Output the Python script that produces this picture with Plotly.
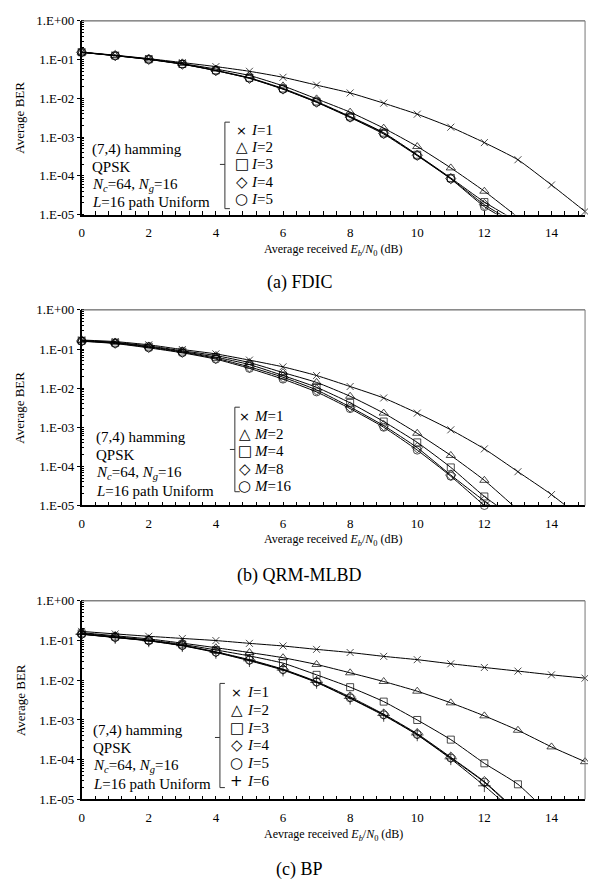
import plotly.graph_objects as go

# page body has an 8px margin, so the figure itself is drawn 8px smaller and positions are offset
PAGE_W, PAGE_H = 596, 888
OFF = 8
W, H = PAGE_W - OFF, PAGE_H - OFF

# ---------------- data ----------------
snr_db = list(range(16))

# (a) FDIC
fdic_names = ["I=1", "I=2", "I=3", "I=4", "I=5"]
fdic_I1 = [0.157, 0.13, 0.106, 0.084, 0.066, 0.05, 0.035, 0.022, 0.0138, 0.0075, 0.0039, 0.0018, 7.2e-4, 2.6e-4, 5.8e-5, 1.2e-5]
fdic_I2 = [0.155, 0.128, 0.104, 0.079, 0.057, 0.039, 0.021, 0.0097, 0.0044, 0.0017, 5.7e-4, 1.6e-4, 4.0e-5, 8.5e-6]
fdic_I3 = [0.155, 0.127, 0.102, 0.077, 0.053, 0.034, 0.018, 0.0083, 0.0034, 0.0013, 3.5e-4, 8.8e-5, 2.1e-5, 6.5e-6]
fdic_I4 = [0.154, 0.127, 0.102, 0.077, 0.052, 0.033, 0.0175, 0.008, 0.0033, 0.00125, 3.4e-4, 8.5e-5, 1.8e-5, 5.5e-6]
fdic_I5 = [0.154, 0.126, 0.101, 0.076, 0.052, 0.033, 0.0172, 0.0079, 0.0032, 0.0012, 3.3e-4, 8.3e-5, 1.6e-5, 5.0e-6]

# (b) QRM-MLBD
qrm_names = ["M=1", "M=2", "M=4", "M=8", "M=16"]
qrm_M1 = [0.17, 0.155, 0.128, 0.097, 0.075, 0.052, 0.035, 0.021, 0.011, 0.0056, 0.0023, 8.6e-4, 2.8e-4, 7.3e-5, 1.9e-5, 4.0e-6]
qrm_M2 = [0.166, 0.148, 0.12, 0.09, 0.068, 0.045, 0.025, 0.014, 0.0062, 0.0023, 7.0e-4, 1.9e-4, 4.4e-5, 7.7e-6]
qrm_M4 = [0.163, 0.145, 0.115, 0.086, 0.062, 0.04, 0.021, 0.0105, 0.0042, 0.0014, 4.1e-4, 9.4e-5, 1.7e-5, 4.2e-6]
qrm_M8 = [0.16, 0.141, 0.111, 0.083, 0.058, 0.035, 0.019, 0.009, 0.0033, 0.0011, 3.0e-4, 6.0e-5, 1.3e-5, 3.0e-6]
qrm_M16 = [0.158, 0.138, 0.107, 0.08, 0.055, 0.032, 0.017, 0.008, 0.003, 0.001, 2.6e-4, 5.6e-5, 1.0e-5, 2.0e-6]

# (c) BP
bp_names = ["I=1", "I=2", "I=3", "I=4", "I=5", "I=6"]
bp_I1 = [0.17, 0.147, 0.128, 0.113, 0.1, 0.085, 0.073, 0.06, 0.05, 0.04, 0.033, 0.026, 0.021, 0.017, 0.0137, 0.0113]
bp_I2 = [0.158, 0.132, 0.11, 0.086, 0.066, 0.05, 0.037, 0.025, 0.0154, 0.0093, 0.0053, 0.0027, 0.00127, 5.5e-4, 2.1e-4, 8.9e-5]
bp_I3 = [0.152, 0.126, 0.103, 0.08, 0.058, 0.041, 0.027, 0.0137, 0.0067, 0.0029, 0.001, 3.2e-4, 8.1e-5, 2.4e-5, 3.8e-6]
bp_I4 = [0.146, 0.121, 0.1, 0.076, 0.052, 0.033, 0.019, 0.0093, 0.0038, 0.0014, 4.5e-4, 1.15e-4, 2.8e-5, 4.8e-6]
bp_I5 = [0.145, 0.12, 0.099, 0.075, 0.051, 0.032, 0.0185, 0.009, 0.0036, 0.00135, 4.3e-4, 1.1e-4, 2.7e-5, 4.5e-6]
bp_I6 = [0.144, 0.119, 0.098, 0.074, 0.05, 0.031, 0.018, 0.0088, 0.0035, 0.0013, 4.2e-4, 1.05e-4, 2.2e-5, 4.0e-6]

y_tickvals = [1, 1e-1, 1e-2, 1e-3, 1e-4, 1e-5]
y_ticktext = ["1.E+00", "1.E-01", "1.E-02", "1.E-03", "1.E-04", "1.E-05"]
x_tickvals = [0, 2, 4, 6, 8, 10, 12, 14]

captions = ["(a) FDIC", "(b) QRM-MLBD", "(c) BP"]
x_titles = ["Average received <i>E<sub>b</sub></i>/<i>N</i><sub>0</sub> (dB)",
            "Average received <i>E<sub>b</sub></i>/<i>N</i><sub>0</sub> (dB)",
            "Aevrage received <i>E<sub>b</sub></i>/<i>N</i><sub>0</sub> (dB)"]
cond_lines = ["(7,4) hamming", "QPSK",
              "<i>N<sub>c</sub></i>=64, <i>N<sub>g</sub></i>=16",
              "<i>L</i>=16 path Uniform"]

# ---------------- styling ----------------
FONT = "Liberation Serif"
SYM = ["x-thin-open", "triangle-up-open", "square-open", "diamond-open", "circle-open", "cross-thin-open"]
SYM_TXT = ["×", "△", "□", "◇", "○", "+"]
SYM_SIZE = [7, 8, 7, 8, 8, 9]
YMIN = 1e-5

def px_x(x):
    return (x - OFF) / W

def px_y(y):
    return 1 - (y - OFF) / H

panels = [
    dict(top=14, bottom=211, series=[fdic_I1, fdic_I2, fdic_I3, fdic_I4, fdic_I5], names=fdic_names,
         br_x=223, br_top=117, br_bot=205, br_mid=160, leg_y0=125, leg_dy=17.5, sym_x=240, txt_x=247,
         cond_x=87, cond_y0=145, cond_dy=17.8, xtitle_y=247, cap_y=280),
    dict(top=308, bottom=507, series=[qrm_M1, qrm_M2, qrm_M4, qrm_M8, qrm_M16], names=qrm_names,
         br_x=233, br_top=407, br_bot=493, br_mid=450, leg_y0=416, leg_dy=17.8, sym_x=243, txt_x=250,
         cond_x=91, cond_y0=438, cond_dy=18, xtitle_y=542, cap_y=578),
    dict(top=604, bottom=806, series=[bp_I1, bp_I2, bp_I3, bp_I4, bp_I5, bp_I6], names=bp_names,
         br_x=218, br_top=688, br_bot=794, br_mid=743, leg_y0=697, leg_dy=18, sym_x=235, txt_x=243,
         cond_x=88, cond_y0=736, cond_dy=18, xtitle_y=842, cap_y=877),
]

X0_PX, X1_PX = 79, 585

fig = go.Figure()
annotations = []
shapes = []

for k, p in enumerate(panels):
    idx = "" if k == 0 else str(k + 1)
    xa, ya = "x" + idx, "y" + idx
    for s, ys in enumerate(p["series"]):
        xs = snr_db[:len(ys)]
        sizes = [SYM_SIZE[s] if v >= YMIN * 0.999 else 0 for v in ys]
        fig.add_trace(go.Scatter(
            x=xs, y=ys, mode="lines+markers", xaxis=xa, yaxis=ya,
            line=dict(color="black", width=1, shape="spline", smoothing=0.5),
            marker=dict(symbol=SYM[s], size=sizes, color="black",
                        line=dict(color="black", width=1)),
            cliponaxis=False, showlegend=False, name=p["names"][s]))

    dom_y = [px_y(p["bottom"]), px_y(p["top"])]
    common_x = dict(domain=[px_x(X0_PX), px_x(X1_PX)], range=[0, 15],
                    tickmode="array", tickvals=x_tickvals,
                    ticks="inside", ticklen=4, tickcolor="black", tickwidth=1,
                    minor=dict(ticks="inside", ticklen=4, dtick=0.4, tick0=0, tickcolor="black", showgrid=False),
                    showline=True, linecolor="black", linewidth=1.5,
                    showgrid=False, zeroline=False,
                    tickfont=dict(family=FONT, size=13, color="black"),
                    ticklabelstandoff=5, anchor=ya)
    common_y = dict(domain=dom_y, type="log", range=[-5, 0],
                    tickmode="array", tickvals=y_tickvals, ticktext=y_ticktext,
                    ticks="outside", ticklen=3, tickcolor="black",
                    minor=dict(ticks="inside", ticklen=3, dtick="D1", tickcolor="black", showgrid=False),
                    showline=True, linecolor="black", linewidth=1.5,
                    showgrid=False, zeroline=False,
                    tickfont=dict(family=FONT, size=13, color="black"),
                    anchor=xa)
    fig.update_layout(**{("xaxis" + idx): common_x, ("yaxis" + idx): common_y})

    shapes.append(dict(type="line", xref="paper", yref="paper",
                       x0=px_x(X0_PX), x1=px_x(X1_PX), y0=px_y(p["top"]), y1=px_y(p["top"]),
                       line=dict(color="#444444", width=1)))
    shapes.append(dict(type="line", xref="paper", yref="paper",
                       x0=px_x(X1_PX), x1=px_x(X1_PX), y0=px_y(p["top"]), y1=px_y(p["bottom"]),
                       line=dict(color="#777777", width=1)))

    bx = p["br_x"]
    shapes.append(dict(type="path", xref="paper", yref="paper",
                       path="M %f,%f L %f,%f L %f,%f L %f,%f" % (
                           px_x(bx + 5), px_y(p["br_top"]), px_x(bx), px_y(p["br_top"]),
                           px_x(bx), px_y(p["br_bot"]), px_x(bx + 5), px_y(p["br_bot"])),
                       line=dict(color="#333333", width=1)))
    shapes.append(dict(type="line", xref="paper", yref="paper",
                       x0=px_x(bx - 5), x1=px_x(bx), y0=px_y(p["br_mid"]), y1=px_y(p["br_mid"]),
                       line=dict(color="#333333", width=1)))

    for s, nm in enumerate(p["names"]):
        yy = px_y(p["leg_y0"] + s * p["leg_dy"])
        annotations.append(dict(xref="paper", yref="paper", x=px_x(p["sym_x"]), y=yy,
                                text=SYM_TXT[s], showarrow=False, xanchor="center", yanchor="middle",
                                font=dict(family="DejaVu Sans", size=15 if s != 0 else 13, color="black")))
        var, val = nm.split("=")
        annotations.append(dict(xref="paper", yref="paper", x=px_x(p["txt_x"]), y=yy,
                                text="<i>%s</i>=%s" % (var, val), showarrow=False,
                                xanchor="left", yanchor="middle",
                                font=dict(family=FONT, size=15, color="black")))

    for j, line in enumerate(cond_lines):
        annotations.append(dict(xref="paper", yref="paper", x=px_x(p["cond_x"]),
                                y=px_y(p["cond_y0"] + j * p["cond_dy"]),
                                text=line, showarrow=False, xanchor="left", yanchor="middle",
                                font=dict(family=FONT, size=15, color="black")))

    annotations.append(dict(xref="paper", yref="paper", x=px_x((X0_PX + X1_PX) / 2),
                            y=px_y(p["xtitle_y"]), text=x_titles[k], showarrow=False,
                            xanchor="center", yanchor="middle",
                            font=dict(family=FONT, size=12, color="black")))
    annotations.append(dict(xref="paper", yref="paper", x=px_x(17),
                            y=px_y((p["top"] + p["bottom"]) / 2), text="Average BER",
                            showarrow=False, textangle=-90, xanchor="center", yanchor="middle",
                            font=dict(family=FONT, size=13, color="black")))
    annotations.append(dict(xref="paper", yref="paper", x=px_x(298), y=px_y(p["cap_y"]),
                            text=captions[k], showarrow=False, xanchor="center", yanchor="middle",
                            font=dict(family=FONT, size=18, color="black")))

fig.update_layout(width=W, height=H, margin=dict(l=0, r=0, t=0, b=0),
                  paper_bgcolor="white", plot_bgcolor="white",
                  annotations=annotations, shapes=shapes,
                  font=dict(family=FONT, color="black"))

fig.write_html("out.html")
